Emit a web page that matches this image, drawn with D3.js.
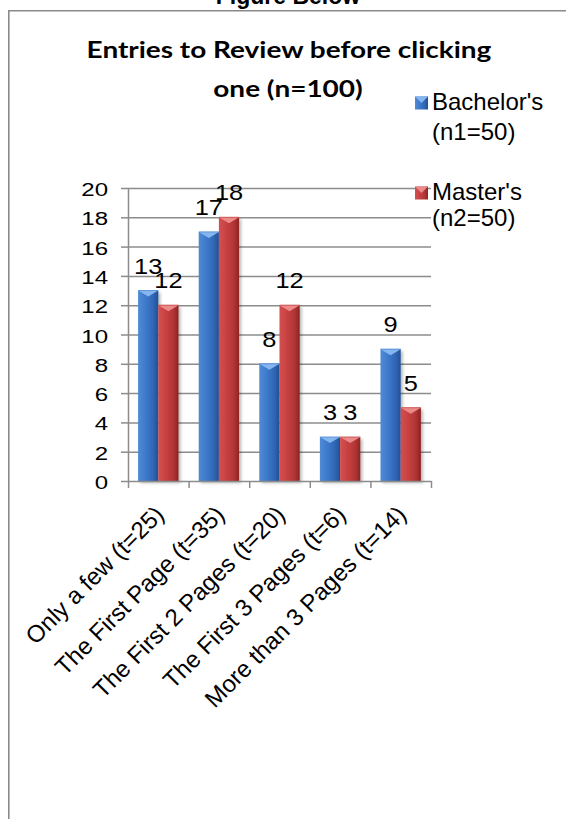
<!DOCTYPE html>
<html>
<head>
<meta charset="utf-8">
<script src="https://cdn.jsdelivr.net/npm/d3@7"></script>
<style>
  html, body { margin: 0; padding: 0; background: #fff; }
  svg { display: block; }
</style>
</head>
<body>
<script>
// Survey counts: how many result entries people review before clicking one
const categories = [
  "Only a few (t=25)",
  "The First Page (t=35)",
  "The First 2 Pages (t=20)",
  "The First 3 Pages (t=6)",
  "More than 3 Pages (t=14)"
];
const bachelors = [13, 17, 8, 3, 9];
const masters = [12, 18, 12, 3, 5];
const seriesNames = ["Bachelor's", "Master's"];
const seriesSubs = ["(n1=50)", "(n2=50)"];
const yTicks = [0, 2, 4, 6, 8, 10, 12, 14, 16, 18, 20];
const titleLines = ["Entries to Review before clicking", "one (n=100)"];
const figureCaption = "Figure Below";

const W = 566, H = 819;
const plot = { left: 128, right: 431, top: 188, bottom: 481 };

const svg = d3.select("body").append("svg")
  .attr("width", W).attr("height", H)
  .attr("viewBox", `0 0 ${W} ${H}`);

const defs = svg.append("defs");

// bar shading: lit on the left, falling off to the right
const palettes = [
  { id: "gBlue", stops: ["#4f8ad6", "#3f7bcc", "#2f66b4", "#234f93"], cap: "#86b6ef", capEdge: "#5d95dc" },
  { id: "gRed", stops: ["#d45050", "#c84242", "#b13434", "#8a2424"], cap: "#ec8a8a", capEdge: "#d25a5a" }
];
palettes.forEach(p => {
  const g = defs.append("linearGradient").attr("id", p.id)
    .attr("x1", "0").attr("y1", "0").attr("x2", "1").attr("y2", "0");
  [0, 0.35, 0.75, 1].forEach((o, i) =>
    g.append("stop").attr("offset", o).attr("stop-color", p.stops[i]));
});

const shadow = defs.append("filter").attr("id", "shadow")
  .attr("x", "-20%").attr("y", "-10%").attr("width", "150%").attr("height", "130%");
shadow.append("feDropShadow").attr("dx", 2).attr("dy", 2)
  .attr("stdDeviation", 1.8).attr("flood-color", "#000").attr("flood-opacity", 0.28);

// caption above the frame (runs off the top edge) and the frame itself
svg.append("text")
  .attr("x", 288).attr("y", 4)
  .attr("text-anchor", "middle")
  .attr("font-family", "'Liberation Sans', Arial, sans-serif")
  .attr("font-weight", "bold").attr("font-size", 23)
  .attr("fill", "#000")
  .text(figureCaption);

svg.append("path")
  .attr("d", `M8.8,${H + 2} V10.8 H${W + 2}`)
  .attr("fill", "none").attr("stroke", "#8a8a8a").attr("stroke-width", 1.6);

// title, set wide
const titleScaleX = 1.19;
const title = svg.append("g")
  .attr("font-family", "Lato, 'Open Sans', sans-serif")
  .attr("font-weight", "bold").attr("font-size", 23.5).attr("fill", "#000")
  .attr("text-anchor", "middle");
title.append("text")
  .attr("transform", `translate(289,58) scale(${titleScaleX},1)`)
  .text(titleLines[0]);
title.append("text")
  .attr("transform", `translate(288,97) scale(${titleScaleX},1)`)
  .text(titleLines[1]);

// scales
const x = d3.scaleBand().domain(categories).range([plot.left, plot.right]).padding(0);
const xSeries = d3.scaleBand().domain([0, 1]).range([0, x.bandwidth()])
  .paddingInner(0).paddingOuter(0.5);
const y = d3.scaleLinear().domain([0, 20]).range([plot.bottom, plot.top]);
const xEdges = d3.scaleLinear().domain([0, categories.length]).range([plot.left, plot.right]);

// horizontal gridlines
svg.append("g")
  .attr("transform", `translate(${plot.left},0)`)
  .call(d3.axisLeft(y).tickValues(yTicks.filter(v => v > 0))
    .tickSize(-(plot.right - plot.left)).tickFormat(""))
  .call(g => g.select(".domain").remove())
  .call(g => g.selectAll("line").attr("stroke", "#8c8c8c").attr("stroke-width", 1.5));

// y axis
const tickScaleX = 1.3;
svg.append("g")
  .attr("transform", `translate(${plot.left},0)`)
  .call(d3.axisLeft(y).tickValues(yTicks).tickSize(7).tickSizeOuter(0))
  .call(g => g.select(".domain").attr("stroke", "#8c8c8c").attr("stroke-width", 1.5))
  .call(g => g.selectAll(".tick line").attr("stroke", "#8c8c8c").attr("stroke-width", 1.5))
  .call(g => g.selectAll(".tick text")
    .attr("font-family", "'Liberation Sans', Arial, sans-serif")
    .attr("font-size", 18.5).attr("fill", "#000")
    .attr("dy", null).attr("y", 7.5)
    .attr("x", -20 / tickScaleX)
    .attr("transform", `scale(${tickScaleX},1)`));

// bars
const groups = svg.append("g").selectAll("g")
  .data(categories)
  .join("g")
  .attr("transform", d => `translate(${x(d)},0)`);

const seriesValues = [bachelors, masters];
const barData = (d, i) => seriesValues.map((vals, s) => ({ s, v: vals[i] }));

groups.each(function (cat, i) {
  const g = d3.select(this);
  const bars = g.selectAll("g.bar").data(barData(cat, i)).join("g").attr("class", "bar");
  bars.append("rect")
    .attr("x", d => xSeries(d.s))
    .attr("y", d => y(d.v))
    .attr("width", xSeries.bandwidth())
    .attr("height", d => y(0) - y(d.v))
    .attr("fill", d => `url(#${palettes[d.s].id})`)
    .attr("filter", "url(#shadow)");
  // bevelled top
  bars.append("path")
    .attr("d", d => {
      const x0 = xSeries(d.s), w = xSeries.bandwidth(), t = y(d.v);
      return `M${x0},${t} L${x0 + w},${t} L${x0 + w / 2},${t + 6} Z`;
    })
    .attr("fill", d => palettes[d.s].cap);
  bars.append("path")
    .attr("d", d => {
      const x0 = xSeries(d.s), w = xSeries.bandwidth(), t = y(d.v);
      return `M${x0},${t} L${x0 + w},${t}`;
    })
    .attr("stroke", d => palettes[d.s].capEdge).attr("stroke-width", 1);
});

// value labels
const labelScaleX = 1.18;
groups.each(function (cat, i) {
  d3.select(this).selectAll("text.value")
    .data(barData(cat, i))
    .join("text").attr("class", "value")
    .attr("font-family", "'Liberation Sans', Arial, sans-serif")
    .attr("font-size", 21.5).attr("fill", "#000")
    .attr("text-anchor", "middle")
    .attr("transform", d =>
      `translate(${xSeries(d.s) + xSeries.bandwidth() / 2},${y(d.v) - 17}) scale(${labelScaleX},1)`)
    .text(d => d.v);
});

// x axis with ticks at the category boundaries
svg.append("g")
  .attr("transform", `translate(0,${plot.bottom})`)
  .call(d3.axisBottom(xEdges).tickValues(d3.range(categories.length + 1))
    .tickSize(7).tickSizeOuter(0).tickFormat(""))
  .call(g => g.select(".domain").attr("stroke", "#8c8c8c").attr("stroke-width", 1.5))
  .call(g => g.selectAll(".tick line").attr("stroke", "#8c8c8c").attr("stroke-width", 1.5));

// slanted category labels
svg.append("g").selectAll("text")
  .data(categories)
  .join("text")
  .attr("font-family", "'Liberation Sans', Arial, sans-serif")
  .attr("font-size", 24).attr("fill", "#000")
  .attr("text-anchor", "end")
  .attr("transform", d => `translate(${x(d) + x.bandwidth() / 2 + 7},516) rotate(-45)`)
  .text(d => d);

// legend
const legend = svg.append("g")
  .attr("font-family", "'Liberation Sans', Arial, sans-serif")
  .attr("font-size", 24).attr("fill", "#000");
const legendRows = [
  { base: 110, sub: 140 },
  { base: 200, sub: 226 }
];
seriesNames.forEach((name, s) => {
  const row = legend.append("g");
  const top = legendRows[s].base - 13.5;
  row.append("rect")
    .attr("x", 415).attr("y", top).attr("width", 13).attr("height", 13)
    .attr("fill", `url(#${palettes[s].id})`);
  row.append("path")
    .attr("d", `M415,${top} L428,${top} L421.5,${top + 6.5} Z`)
    .attr("fill", palettes[s].cap);
  row.append("text").attr("x", 432).attr("y", legendRows[s].base).text(name);
  row.append("text").attr("x", 432).attr("y", legendRows[s].sub).text(seriesSubs[s]);
});
</script>
</body>
</html>
